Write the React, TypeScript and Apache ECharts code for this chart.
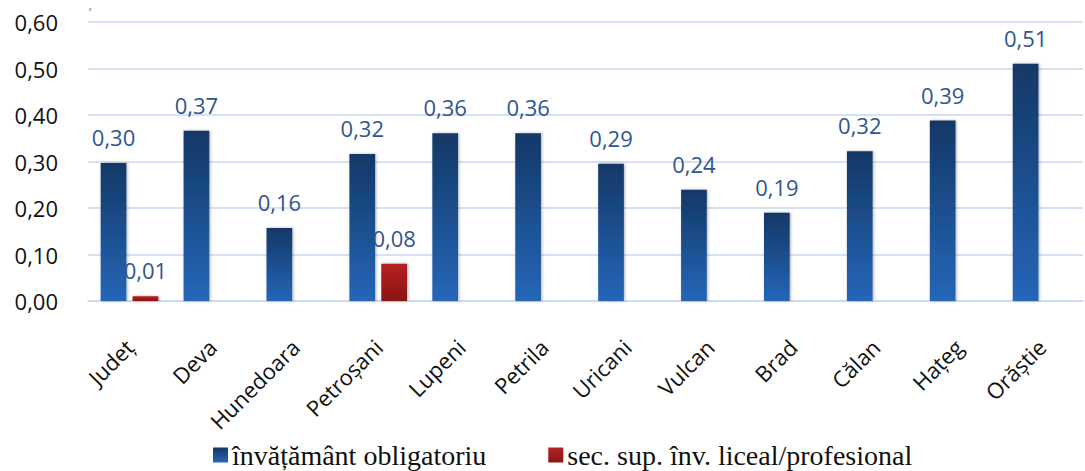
import React, { useEffect, useRef } from "react";
import * as echarts from "echarts";

const categories = ["Județ", "Deva", "Hunedoara", "Petroșani", "Lupeni", "Petrila", "Uricani", "Vulcan", "Brad", "Călan", "Hațeg", "Orăștie"];
const obligatoriu = [0.297, 0.366, 0.157, 0.316, 0.361, 0.361, 0.295, 0.239, 0.19, 0.322, 0.388, 0.51];
const liceal = [0.01, null, null, 0.08, null, null, null, null, null, null, null, null];
const yTicks = [0, 0.1, 0.2, 0.3, 0.4, 0.5, 0.6];
const seriesNames = ["învățământ obligatoriu", "sec. sup. înv. liceal/profesional"];

const fmt = (v: number) => v.toFixed(2).replace(".", ",");

export default function App() {
  const ref = useRef<HTMLDivElement>(null);
  useEffect(() => {
    const chart = echarts.init(ref.current!, null, { renderer: "svg" });
    const labelStyle = {
      show: true,
      position: "top" as const,
      distance: 15,
      fontSize: 22,
      fontFamily: "Open Sans",
      color: "#2f5592",
      formatter: (p: any) => (p.value == null ? "" : fmt(p.value)),
    };
    chart.setOption({
      animation: false,
      grid: { left: 88, right: 2, top: 22, bottom: 170, containLabel: false },
      legend: {
        top: 435,
        left: 208,
        itemGap: 62,
        itemWidth: 15,
        itemHeight: 15,
        icon: "rect",
        textStyle: { fontFamily: "Liberation Serif", fontSize: 28, lineHeight: 30, color: "#111", padding: [0, 0, 0, -1] },
        data: seriesNames,
      },
      xAxis: {
        type: "category",
        data: categories,
        axisLine: { show: true, lineStyle: { color: "#c9d9ee", width: 1.5 } },
        axisTick: { show: false },
        axisLabel: {
          rotate: 45,
          interval: 0,
          fontSize: 22,
          fontFamily: "Open Sans",
          color: "#111",
          margin: 42,
        },
      },
      yAxis: {
        type: "value",
        min: 0,
        max: 0.6,
        interval: 0.1,
        axisLine: { show: false },
        axisTick: { show: false },
        splitLine: { lineStyle: { color: "#c9d9ee", width: 1.5 } },
        axisLabel: {
          fontSize: 22,
          fontFamily: "Open Sans",
          color: "#111",
          margin: 30,
          formatter: (v: number) => (yTicks.some((t) => Math.abs(t - v) < 1e-9) ? fmt(v) : ""),
        },
      },
      series: [
        {
          name: seriesNames[0],
          type: "bar",
          data: obligatoriu,
          barWidth: "31%",
          barGap: "24%",
          itemStyle: {
            color: new echarts.graphic.LinearGradient(0, 0, 0, 1, [
              { offset: 0, color: "#133866" },
              { offset: 1, color: "#2566b8" },
            ]),
            shadowBlur: 3,
            shadowColor: "rgba(0,0,0,0.3)",
            shadowOffsetX: 1,
          },
          label: labelStyle,
        },
        {
          name: seriesNames[1],
          type: "bar",
          data: liceal,
          barWidth: "31%",
          itemStyle: {
            color: new echarts.graphic.LinearGradient(0, 0, 0, 1, [
              { offset: 0, color: "#b52222" },
              { offset: 1, color: "#8a1515" },
            ]),
            shadowBlur: 3,
            shadowColor: "rgba(0,0,0,0.3)",
            shadowOffsetX: 1,
          },
          label: labelStyle,
        },
      ],
      graphic: [
        { type: "text", left: 89, top: 1, style: { text: ",", fontSize: 10, fill: "#444", fontFamily: "Open Sans" } },
      ],
    });
    return () => chart.dispose();
  }, []);
  return <div ref={ref} style={{ width: 1085, height: 471, position: "absolute", left: 0, top: 0 }} />;
}
